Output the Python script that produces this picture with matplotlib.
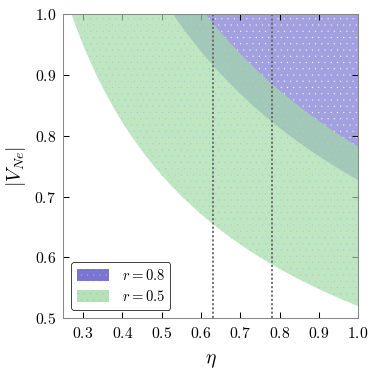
import numpy as np
import matplotlib
matplotlib.use("Agg")
import matplotlib.pyplot as plt
from matplotlib.patches import Patch
from matplotlib.ticker import FuncFormatter, MultipleLocator

plt.rcParams['mathtext.fontset'] = 'cm'
plt.rcParams['hatch.linewidth'] = 0.0

# Band coefficients: |V_Ne| = c / sqrt(eta)
eta = np.linspace(0.25, 1.0, 400)
r05_low, r05_high = 0.52, 0.782   # r = 0.5 band
r08_low = 0.727                    # r = 0.8 band (extends above plot)
eta_marks = [0.63, 0.78]
labels = [r'$r = 0.8$', r'$r = 0.5$']

fig = plt.figure(figsize=(5, 5), dpi=75)
ax = fig.add_axes([0.169, 0.151, 0.786, 0.812])

purple = '#a3a0e0'
purple_leg = '#7a75d2'
green = '#a2dba5'
green_alpha = 0.69

ax.fill_between(eta, r08_low / np.sqrt(eta), 2.0, facecolor=purple,
                edgecolor='white', hatch='..', linewidth=0, zorder=1)
ax.fill_between(eta, r05_low / np.sqrt(eta), r05_high / np.sqrt(eta),
                facecolor=green, alpha=green_alpha, edgecolor='#a8aee6',
                hatch='..', linewidth=0, zorder=2)

for m in eta_marks:
    ax.axvline(m, color='#666666', ls=(0, (1.2, 1.2)), lw=1.7, zorder=3)

ax.set_xlim(0.25, 1.0)
ax.set_ylim(0.5, 1.0)
ax.xaxis.set_major_locator(MultipleLocator(0.1))
ax.yaxis.set_major_locator(MultipleLocator(0.1))
fmt = FuncFormatter(lambda v, p: r'$%.1f$' % v)
ax.xaxis.set_major_formatter(fmt)
ax.yaxis.set_major_formatter(fmt)
ax.tick_params(direction='in', top=True, right=True, length=6, width=1,
               labelsize=15, pad=7, color='black')
for s in ax.spines.values():
    s.set_color('#888888')
    s.set_linewidth(1.0)
    s.set_zorder(5)

ax.set_xlabel(r'$\eta$', fontsize=19, labelpad=10)
ax.set_ylabel(r'$|V_{Ne}|$', fontsize=19, labelpad=6)

handles = [
    Patch(facecolor=purple_leg, edgecolor='#b8b8ee', hatch='..', linewidth=0),
    Patch(facecolor='#b4e2b6', edgecolor='#a8b8d8', hatch='..', linewidth=0),
]
leg = ax.legend(handles, labels, loc='lower left', bbox_to_anchor=(0.027, 0.027),
                borderaxespad=0, fontsize=14, frameon=True, fancybox=True,
                handlelength=2.2, handleheight=0.85, handletextpad=0.85,
                borderpad=0.4, labelspacing=0.45, framealpha=1)
leg.get_frame().set_edgecolor('#222222')
leg.get_frame().set_linewidth(0.8)
leg.set_zorder(6)

fig.savefig('out.png', dpi=75)
